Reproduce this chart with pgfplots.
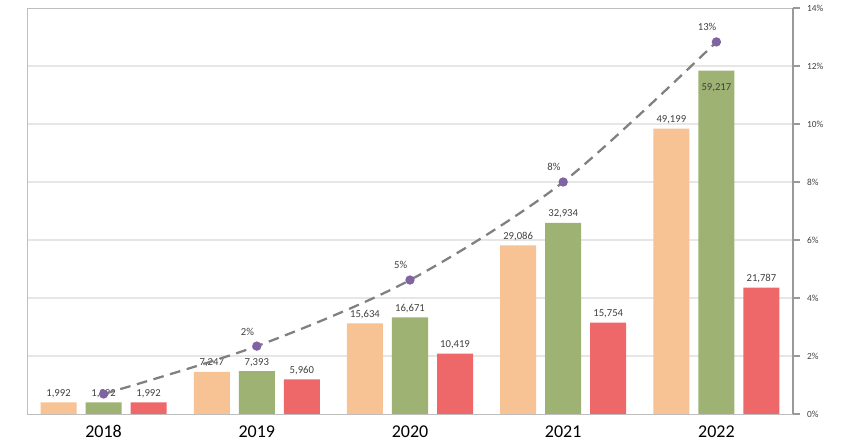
\documentclass[border=0pt]{standalone}
\usepackage{fontspec}
\setmainfont{Carlito}
\usepackage{pgfplots}
\pgfplotsset{compat=1.18}

\definecolor{cOrange}{RGB}{247,194,148}
\definecolor{cGreen}{RGB}{157,178,115}
\definecolor{cRed}{RGB}{238,104,106}
\definecolor{cPurple}{RGB}{128,100,162}
\definecolor{cLine}{RGB}{128,128,128}
\definecolor{cGrid}{RGB}{230,230,230}
\definecolor{cFrame}{RGB}{190,190,190}
\definecolor{cText}{RGB}{64,64,64}

\begin{document}
\begin{tikzpicture}
% fixed canvas: 1px = 0.75pt
\path[use as bounding box] (-20.25pt,-23.25pt) rectangle (617.25pt,310.5pt);

% bars (left axis, hidden scale 0..70000)
\begin{axis}[
    at={(0pt,0pt)}, anchor=south west,
    scale only axis, width=574.5pt, height=304.5pt,
    xmin=-0.5, xmax=4.5, ymin=0, ymax=70000,
    ybar, bar width=0.235,
    axis line style={draw=cFrame},
    xtick={0,1,2,3,4}, xticklabels={2018,2019,2020,2021,2022},
    x tick label style={font=\fontsize{13.5}{16}\selectfont, text=black, yshift=-5pt},
    ytick={10000,20000,...,60000}, yticklabels={},
    ymajorgrids, grid style={cGrid, line width=0.8pt},
    major tick length=0pt,
    /pgf/number format/assume math mode=true,
    /pgf/number format/fixed, /pgf/number format/precision=0,
    /pgf/number format/1000 sep={,},
    nodes near coords,
    nodes near coords style={font=\fontsize{8}{9}\selectfont, text=cText},
    coordinate style/.condition={y>50000}{anchor=north, yshift=-6pt},
]
\addplot[bar shift=-0.294, fill=cOrange, draw=none] coordinates {
    (0,1992) (1,7247) (2,15634) (3,29086) (4,49199)
};
\addplot[bar shift=0, fill=cGreen, draw=none] coordinates {
    (0,1992) (1,7393) (2,16671) (3,32934) (4,59217)
};
\addplot[bar shift=0.294, fill=cRed, draw=none] coordinates {
    (0,1992) (1,5960) (2,10419) (3,15754) (4,21787)
};
\end{axis}

% share line (right axis, percent)
\begin{axis}[
    at={(0pt,0pt)}, anchor=south west,
    scale only axis, width=574.5pt, height=304.5pt,
    xmin=-0.5, xmax=4.5, ymin=0, ymax=14,
    axis x line=none,
    axis y line*=right,
    axis line style={draw=cLine!80, line width=0.8pt},
    ytick={0,2,...,14},
    yticklabel={\pgfmathprintnumber{\tick}\%},
    /pgf/number format/assume math mode=true,
    y tick label style={font=\fontsize{7}{8}\selectfont, text=cText, xshift=2pt},
    tick align=outside, major tick length=5pt,
    ytick style={draw=cLine!80, line width=0.8pt},
]
\addplot[smooth, cLine, line width=1.7pt, dash pattern=on 8pt off 5pt,
    mark=*, mark size=2.6pt, mark options={solid, draw=cPurple, fill=cPurple},
    nodes near coords, point meta=explicit symbolic,
    every node near coord/.append style={font=\fontsize{8}{9}\selectfont,
        text=cText, anchor=center, xshift=-7pt, yshift=11pt}]
coordinates {
    (0,0.69)[] (1,2.34)[2\%] (2,4.62)[5\%] (3,8.0)[8\%] (4,12.83)[13\%]
};
\end{axis}
\end{tikzpicture}
\end{document}
